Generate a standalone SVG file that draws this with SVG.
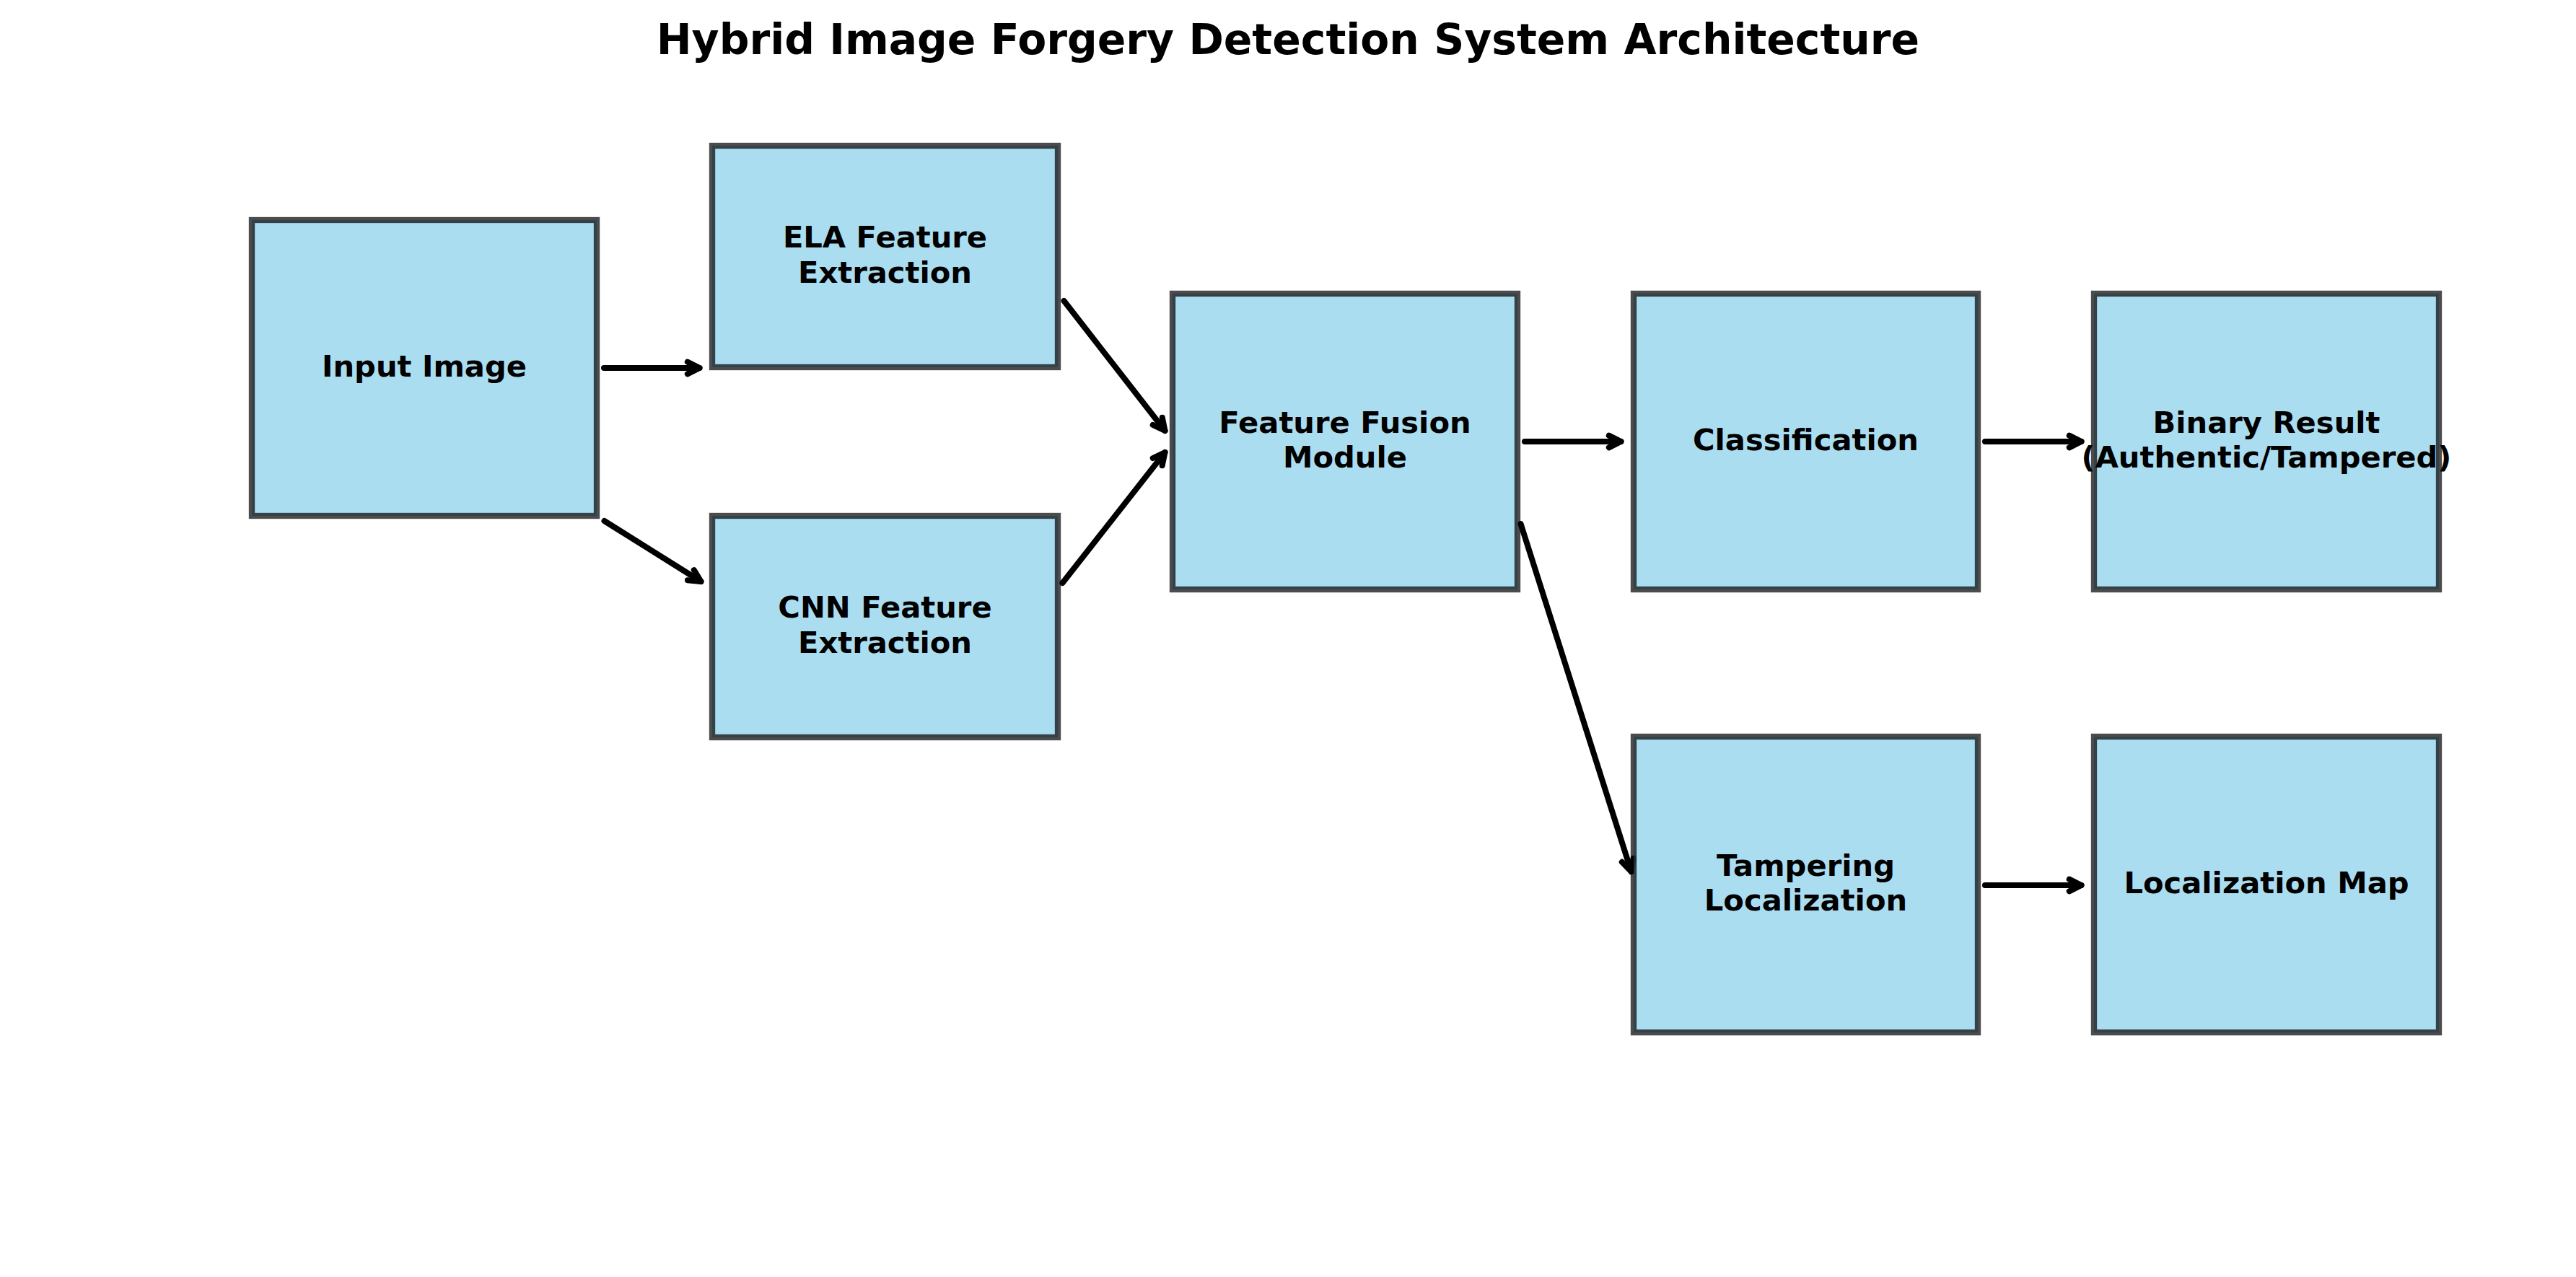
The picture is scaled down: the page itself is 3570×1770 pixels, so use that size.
<svg xmlns="http://www.w3.org/2000/svg" width="3570" height="1770" viewBox="0 0 3570 1770">
  <style>
    .box { fill: #87CEEB; fill-opacity: 0.7; stroke: #000000; stroke-opacity: 0.7; stroke-width: 8.33; }
    .lbl { font-family: "DejaVu Sans", "Liberation Sans", sans-serif; font-weight: bold; font-size: 41.67px; fill: #000000; text-anchor: middle; }
    .title { font-family: "DejaVu Sans", "Liberation Sans", sans-serif; font-weight: bold; font-size: 58.33px; fill: #000000; text-anchor: middle; }
    .edge { fill: none; stroke: #000000; stroke-width: 8; stroke-linecap: round; stroke-linejoin: round; }
  </style>
  <rect x="0" y="0" width="3570" height="1770" fill="#ffffff"/>
  <text class="title" x="1785" y="75">Hybrid Image Forgery Detection System Architecture</text>

  <g id="connectors">
    <g id="e-input-ela"><path class="edge" d="M837,510 L969.5,510"/><path class="edge" d="M952.8,501.7 L969.5,510 L952.8,518.3"/></g>
    <g id="e-input-cnn"><path class="edge" d="M837.5,722 L971.5,806"/><path class="edge" d="M952.9,804.2 L971.5,806 L961.8,790.1"/></g>
    <g id="e-ela-fusion"><path class="edge" d="M1474.5,417 L1614.5,597"/><path class="edge" d="M1597.7,588.9 L1614.5,597 L1610.8,578.7"/></g>
    <g id="e-cnn-fusion"><path class="edge" d="M1472.5,808 L1614.5,627"/><path class="edge" d="M1610.7,645.3 L1614.5,627 L1597.7,635"/></g>
    <g id="e-fusion-class"><path class="edge" d="M2113,612 L2246.5,612"/><path class="edge" d="M2229.8,603.7 L2246.5,612 L2229.8,620.3"/></g>
    <g id="e-class-binary"><path class="edge" d="M2751,612 L2884.5,612"/><path class="edge" d="M2867.8,603.7 L2884.5,612 L2867.8,620.3"/></g>
    <g id="e-fusion-tamper"><path class="edge" d="M2107.5,726 L2260.8,1208.2"/><path class="edge" d="M2247.8,1194.8 L2260.8,1208.2 L2263.6,1189.8"/></g>
    <g id="e-tamper-locmap"><path class="edge" d="M2751,1227 L2884.5,1227"/><path class="edge" d="M2867.8,1218.7 L2884.5,1227 L2867.8,1235.3"/></g>
  </g>

  <g id="node-input">
    <rect class="box" x="349" y="305" width="478" height="410"/>
    <text class="lbl" x="588" y="522">Input Image</text>
  </g>
  <g id="node-ela">
    <rect class="box" x="987" y="202" width="479" height="307"/>
    <text class="lbl" x="1226.5" y="343">ELA Feature</text>
    <text class="lbl" x="1226.5" y="391.5">Extraction</text>
  </g>
  <g id="node-cnn">
    <rect class="box" x="987" y="715" width="479" height="307"/>
    <text class="lbl" x="1226.5" y="856">CNN Feature</text>
    <text class="lbl" x="1226.5" y="904.5">Extraction</text>
  </g>
  <g id="node-fusion">
    <rect class="box" x="1625" y="407" width="478" height="410"/>
    <text class="lbl" x="1864" y="599.5">Feature Fusion</text>
    <text class="lbl" x="1864" y="648">Module</text>
  </g>
  <g id="node-classification">
    <rect class="box" x="2264" y="407" width="477" height="410"/>
    <text class="lbl" x="2502.5" y="624">Classification</text>
  </g>
  <g id="node-binary">
    <rect class="box" x="2902" y="407" width="478" height="410"/>
    <text class="lbl" x="3141" y="599.5">Binary Result</text>
    <text class="lbl" x="3141" y="648">(Authentic/Tampered)</text>
  </g>
  <g id="node-tampering">
    <rect class="box" x="2264" y="1021" width="477" height="410"/>
    <text class="lbl" x="2502.5" y="1213.5">Tampering</text>
    <text class="lbl" x="2502.5" y="1262">Localization</text>
  </g>
  <g id="node-locmap">
    <rect class="box" x="2902" y="1021" width="478" height="410"/>
    <text class="lbl" x="3141" y="1238">Localization Map</text>
  </g>
</svg>
